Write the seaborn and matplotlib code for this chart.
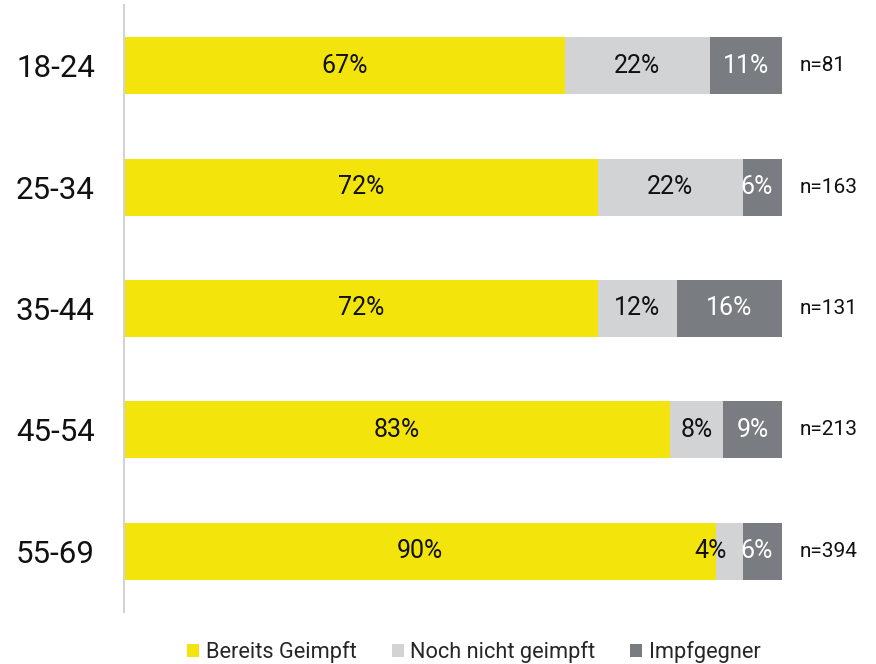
import matplotlib
matplotlib.use("Agg")
import matplotlib.pyplot as plt
import seaborn as sns
import pandas as pd
from matplotlib.patches import Patch

categories = ["18-24", "25-34", "35-44", "45-54", "55-69"]
geimpft = [67, 72, 72, 83, 90]
noch_nicht = [22, 22, 12, 8, 4]
gegner = [11, 6, 16, 9, 6]
n_labels = ["n=81", "n=163", "n=131", "n=213", "n=394"]
series_names = ["Bereits Geimpft", "Noch nicht geimpft", "Impfgegner"]
colors = ["#F3E40B", "#D2D3D5", "#797C81"]
text_colors = ["#111111", "#111111", "#FFFFFF"]

sns.set_style("white")
plt.rcParams["font.family"] = ["Roboto", "DejaVu Sans"]

df = pd.DataFrame({"cat": categories, "g": geimpft, "nn": noch_nicht, "ig": gegner})
df["c1"] = df["g"]
df["c2"] = df["g"] + df["nn"]
df["c3"] = df["g"] + df["nn"] + df["ig"]

fig = plt.figure(figsize=(8.76, 6.64), dpi=100)
ax = fig.add_axes([124 / 876, 1 - 612 / 664, (782 - 124) / 876, (612 - 5) / 664])

for col, color in zip(["c3", "c2", "c1"], [colors[2], colors[1], colors[0]]):
    sns.barplot(data=df, x=col, y="cat", order=categories, orient="h",
                color=color, width=0.47, ax=ax, saturation=1, linewidth=0)

vals = [geimpft, noch_nicht, gegner]
for i in range(len(categories)):
    left = 0
    for s in range(3):
        w = vals[s][i]
        cx = left + w / 2
        if w < 5:
            cx = left - 0.8
        elif w < 7:
            cx = left + w / 2 - 0.8
        ax.text(cx, i, f"{w}%", ha="center", va="center", fontsize=18,
                color=text_colors[s])
        left += w
    ax.text(102.7, i, n_labels[i], ha="left", va="center", fontsize=15,
            color="#111111", clip_on=False)

ax.set_xlim(0, 100)
ax.set_ylim(4.5, -0.5)
ax.set_xlabel("")
ax.set_ylabel("")
ax.set_xticks([])
ax.tick_params(axis="y", length=0, pad=21, labelsize=22.5, labelcolor="#111111")
for sp in ["top", "right", "bottom"]:
    ax.spines[sp].set_visible(False)
ax.spines["left"].set_color("#D3D3D3")
ax.spines["left"].set_linewidth(1.5)

handles = [Patch(facecolor=c, edgecolor="none") for c in colors]
fig.legend(handles, series_names, loc="center", bbox_to_anchor=(474 / 876, 1 - 652 / 664),
           ncol=3, frameon=False, fontsize=15.7, handlelength=0.55, handleheight=0.55,
           handletextpad=0.3, columnspacing=1.6, borderaxespad=0, borderpad=0)

fig.savefig("out.png", dpi=100)
